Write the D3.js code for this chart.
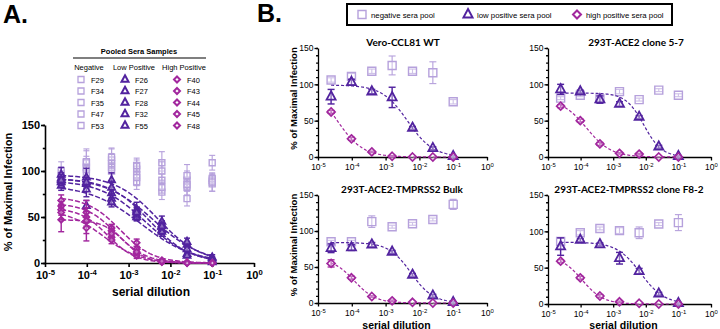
<!DOCTYPE html>
<html lang="en">
<head>
<meta charset="utf-8">
<script src="https://d3js.org/d3.v7.min.js"></script>
<style>
  body { margin: 0; background: #fff; }
  svg { display: block; font-family: "Liberation Sans", Arial, sans-serif; }
</style>
</head>
<body>
<svg id="fig" width="720" height="329"></svg>
<script>
// serial 4-fold dilutions, 1:40960 ... 1:10
var dilutions = [2.44e-5, 9.77e-5, 3.91e-4, 1.56e-3, 6.25e-3, 2.5e-2, 1e-1];
var xTicks = [1e-5, 1e-4, 1e-3, 1e-2, 1e-1, 1];

// ---- panel A: pooled sera samples ----
var negIds = ["F29", "F34", "F35", "F47", "F53"];
var lowIds = ["F26", "F27", "F28", "F32", "F55"];
var highIds = ["F40", "F43", "F44", "F45", "F48"];

var negA = [
  [95, 104, 108, 102, 109, 90, 109],
  [90, 109, 112, 106, 90, 82, 90],
  [100, 98, 104, 96, 77, 95, 86],
  [88, 102, 100, 88, 100, 70, 92],
  [92, 110, 115, 93, 82, 85, 88]
];
var negAErr = [
  [8, 12, 10, 10, 12, 10, 8],
  [6, 15, 12, 8, 10, 8, 6],
  [10, 10, 15, 12, 8, 12, 8],
  [5, 10, 12, 8, 10, 8, 5],
  [8, 12, 10, 8, 6, 6, 10]
];
var lowA = [
  [92, 86, 76, 56, 42, 20, 5],
  [88, 80, 70, 52, 36, 10, 2],
  [96, 93, 90, 58, 45, 23, 6],
  [84, 62, 66, 50, 34, 8, 1],
  [90, 88, 82, 55, 40, 15, 3]
];
var lowAErr = [
  [6, 5, 6, 5, 4, 3, 2],
  [5, 8, 6, 6, 5, 3, 1],
  [8, 10, 8, 8, 6, 4, 3],
  [5, 6, 5, 4, 5, 2, 1],
  [6, 5, 7, 5, 4, 3, 2]
];
var highA = [
  [68, 55, 38, 22, 3, 1, 0],
  [62, 50, 35, 15, 2, 0, 0],
  [58, 45, 28, 10, 1, 0, 0],
  [47, 46, 32, 8, 1, 0, 0],
  [55, 38, 25, 12, 2, 0, 0]
];
var highAErr = [
  [6, 5, 4, 4, 1, 0, 0],
  [5, 6, 5, 3, 1, 0, 0],
  [6, 5, 4, 3, 1, 0, 0],
  [13, 22, 5, 3, 1, 0, 0],
  [8, 6, 4, 3, 1, 0, 0]
];
// fitted dose-response parameters (top, log IC50, hill)
var lowATop = [93, 90, 96, 85, 92];
var lowALogIC50 = [-2.4, -2.6, -2.3, -2.7, -2.5];
var lowAHill = [0.75, 0.8, 0.85, 0.7, 0.9];
var highATop = [72, 65, 60, 47, 58];
var highALogIC50 = [-3.2, -3.3, -3.5, -3.1, -3.6];
var highAHill = [1.1, 1.2, 1.3, 1.6, 1.0];

// ---- panel B: cell lines ----
var bTitles = ["Vero-CCL81 WT", "293T-ACE2 clone 5-7", "293T-ACE2-TMPRSS2 Bulk", "293T-ACE2-TMPRSS2 clone F8-2"];
var bNeg = [
  [106, 111, 118, 126, 118, 116, 76],
  [81, 85, 80, 90, 79, 92, 85],
  [85, 85, 113, 106, 110, 116, 137],
  [86, 98, 104, 101, 98, 110, 112]
];
var bNegErr = [
  [3, 4, 3, 13, 3, 15, 3],
  [2, 2, 2, 3, 2, 2, 2],
  [2, 2, 8, 2, 2, 2, 7],
  [5, 3, 2, 4, 8, 2, 11]
];
var bLow = [
  [83, 103, 90, 82, 40, 12, 1],
  [93, 90, 79, 73, 55, 14, 1],
  [76, 77, 81, 71, 39, 10, 1],
  [79, 88, 82, 63, 45, 14, 1]
];
var bLowErr = [
  [10, 4, 3, 14, 2, 2, 1],
  [7, 2, 5, 3, 2, 2, 1],
  [6, 4, 3, 2, 2, 2, 1],
  [12, 2, 2, 8, 4, 2, 1]
];
var bHigh = [
  [62, 25, 7, 1, 0, 0, 0],
  [70, 50, 18, 5, 4, 0, 0],
  [55, 35, 9, 3, 1, 0, 0],
  [59, 36, 11, 3, 1, 0, 0]
];
var bHighErr = [
  [2, 2, 1, 1, 0, 0, 0],
  [2, 2, 2, 1, 1, 0, 0],
  [5, 2, 1, 1, 0, 0, 0],
  [2, 2, 2, 1, 0, 0, 0]
];
var bLowTop = [99, 88, 84, 85];
var bLowLogIC50 = [-2.35, -2.06, -2.25, -2.16];
var bLowHill = [1.15, 1.57, 1.33, 1.2];
var bHighTop = [100, 80, 62, 66];
var bHighLogIC50 = [-4.43, -3.82, -3.93, -3.95];
var bHighHill = [1.15, 1.15, 1.38, 1.35];

var cNeg = "#b6a1dc", cLow = "#52239f", cHigh = "#a2279e";

var svg = d3.select("#fig");

function symPath(type, s) {
  if (type === "sq") return "M" + (-s / 2) + "," + (-s / 2) + "h" + s + "v" + s + "h" + (-s) + "Z";
  if (type === "tri") return "M0," + (-s * 0.6) + "L" + (s / 2) + "," + (s * 0.32) + "L" + (-s / 2) + "," + (s * 0.32) + "Z";
  return "M0," + (-s / 2) + "L" + (s / 2) + ",0L0," + (s / 2) + "L" + (-s / 2) + ",0Z";
}

// x log axis with 10^n labels, y axis 0..150
function makeAxes(g, x, y, o) {
  var xa = g.append("g").attr("transform", "translate(0," + y(0) + ")")
    .call(d3.axisBottom(x).tickValues(xTicks).tickSize(o.tick).tickSizeOuter(0).tickPadding(o.xpad));
  xa.selectAll(".tick text").text(null)
    .attr("font-size", o.font).attr("font-weight", o.weight).attr("fill", "#000")
    .each(function(d) {
      var t = d3.select(this);
      t.append("tspan").text("10");
      t.append("tspan").attr("dy", "-0.45em").attr("font-size", "70%").text(Math.round(Math.log10(d)));
    });
  var ya = g.append("g").attr("transform", "translate(" + x.range()[0] + ",0)")
    .call(d3.axisLeft(y).tickValues([0, 50, 100, 150]).tickSize(o.tick).tickSizeOuter(0).tickPadding(1));
  ya.selectAll(".tick text").attr("font-size", o.font).attr("font-weight", o.weight).attr("fill", "#000");
  g.append("g").attr("transform", "translate(" + x.range()[0] + ",0)")
    .call(d3.axisLeft(y).tickValues(d3.range(0, 151, o.minor)).tickSize(o.tick * 0.55).tickFormat(""))
    .select(".domain").remove();
  g.selectAll(".domain, .tick line").attr("stroke", "#000").attr("stroke-width", o.axisW);
}

function drawCurve(g, x, y, top, logIc, hill, color, w, dash) {
  var lo = Math.log10(dilutions[0]), hi = Math.log10(dilutions[dilutions.length - 1]);
  var pts = d3.range(0, 81).map(function(i) {
    var lx = lo + (hi - lo) * i / 80;
    return [lx, top / (1 + Math.pow(10, (lx - logIc) * hill))];
  });
  g.append("path").datum(pts)
    .attr("fill", "none").attr("stroke", color).attr("stroke-width", w)
    .attr("stroke-dasharray", dash)
    .attr("d", d3.line().x(function(d) { return x(Math.pow(10, d[0])); }).y(function(d) { return y(d[1]); }));
}

function drawPoints(g, x, y, vals, errs, type, color, s, sw, cap) {
  var pts = vals.map(function(v, i) { return { d: dilutions[i], v: v, e: errs[i] }; });
  var eb = g.append("g").attr("stroke", color).attr("stroke-width", sw * 0.8).attr("fill", "none");
  pts.filter(function(p) { return p.e > 0; }).forEach(function(p) {
    var cx = x(p.d);
    eb.append("line").attr("x1", cx).attr("x2", cx).attr("y1", y(p.v - p.e)).attr("y2", y(p.v + p.e));
    eb.append("line").attr("x1", cx - cap).attr("x2", cx + cap).attr("y1", y(p.v + p.e)).attr("y2", y(p.v + p.e));
    eb.append("line").attr("x1", cx - cap).attr("x2", cx + cap).attr("y1", y(Math.max(0, p.v - p.e))).attr("y2", y(Math.max(0, p.v - p.e)));
  });
  g.append("g").selectAll("path").data(pts).join("path")
    .attr("transform", function(p) { return "translate(" + x(p.d) + "," + y(p.v) + ")"; })
    .attr("d", symPath(type, s))
    .attr("fill", "#fff").attr("fill-opacity", 0.35)
    .attr("stroke", color).attr("stroke-width", sw);
}

// ================= panel A =================
svg.append("text").attr("x", 3).attr("y", 23).attr("font-size", 25).attr("font-weight", "bold").text("A.");

var xA = d3.scaleLog().domain([1e-5, 1]).range([45, 254]);
var yA = d3.scaleLinear().domain([0, 150]).range([263, 125]);
var gA = svg.append("g");
makeAxes(gA, xA, yA, { tick: 4, font: 11, weight: "bold", minor: 25, axisW: 1.6, xpad: 4 });

negA.forEach(function(v, i) { drawPoints(gA, xA, yA, v, negAErr[i], "sq", cNeg, 6, 1.4, 3); });
lowA.forEach(function(v, i) {
  drawCurve(gA, xA, yA, lowATop[i], lowALogIC50[i], lowAHill[i], cLow, 1.5, "5,2");
  drawPoints(gA, xA, yA, v, lowAErr[i], "tri", cLow, 7, 1.8, 3);
});
highA.forEach(function(v, i) {
  drawCurve(gA, xA, yA, highATop[i], highALogIC50[i], highAHill[i], cHigh, 1.5, "5,2");
  drawPoints(gA, xA, yA, v, highAErr[i], "dia", cHigh, 6, 1.8, 3);
});

svg.append("text").attr("transform", "translate(12,192) rotate(-90)").attr("text-anchor", "middle")
  .attr("font-size", 11).attr("font-weight", "bold").text("% of Maximal Infection");
svg.append("text").attr("x", 151).attr("y", 296).attr("text-anchor", "middle")
  .attr("font-size", 12).attr("font-weight", "bold").text("serial dilution");

// legend of panel A
var lg = svg.append("g").attr("font-size", 7.5);
lg.append("text").attr("x", 139).attr("y", 54).attr("text-anchor", "middle").attr("font-weight", "bold").text("Pooled Sera Samples");
lg.append("line").attr("x1", 73).attr("x2", 206).attr("y1", 58).attr("y2", 58).attr("stroke", "#000").attr("stroke-width", 1.2);
var cols = [
  { head: "Negative", hx: 89, sx: 81, ids: negIds, type: "sq", color: cNeg, s: 6, sw: 1.3 },
  { head: "Low Positive", hx: 134, sx: 125, ids: lowIds, type: "tri", color: cLow, s: 7, sw: 2 },
  { head: "High Positive", hx: 184, sx: 177, ids: highIds, type: "dia", color: cHigh, s: 6, sw: 2 }
];
cols.forEach(function(c) {
  lg.append("text").attr("x", c.hx).attr("y", 69.5).attr("text-anchor", "middle").text(c.head);
  c.ids.forEach(function(id, r) {
    var cy = 79.5 + r * 11.5;
    lg.append("path").attr("transform", "translate(" + c.sx + "," + cy + ")").attr("d", symPath(c.type, c.s))
      .attr("fill", "none").attr("stroke", c.color).attr("stroke-width", c.sw);
    lg.append("text").attr("x", c.sx + 10).attr("y", cy + 3).text(id);
  });
});

// ================= panel B =================
svg.append("text").attr("x", 257).attr("y", 22).attr("font-size", 25).attr("font-weight", "bold").text("B.");

var lb = svg.append("g").attr("font-size", 7.8);
lb.append("rect").attr("x", 347).attr("y", 4).attr("width", 325).attr("height", 21)
  .attr("fill", "#fff").attr("stroke", "#000").attr("stroke-width", 2);
[
  { label: "negative sera pool", sx: 362, type: "sq", color: cNeg, s: 8, sw: 1.4 },
  { label: "low positive sera pool", sx: 468, type: "tri", color: cLow, s: 9, sw: 2 },
  { label: "high positive sera pool", sx: 577, type: "dia", color: cHigh, s: 8, sw: 2 }
].forEach(function(e) {
  lb.append("path").attr("transform", "translate(" + e.sx + ",14.5)").attr("d", symPath(e.type, e.s))
    .attr("fill", "none").attr("stroke", e.color).attr("stroke-width", e.sw);
  lb.append("text").attr("x", e.sx + 9).attr("y", 17.5).text(e.label);
});

var bLayout = [
  { x0: 318, x1: 487, y0: 157, y1: 48, tx: 403, ty: 46, yt: true, xt: false },
  { x0: 548, x1: 711, y0: 157, y1: 48, tx: 636, ty: 46, yt: false, xt: false },
  { x0: 318, x1: 487, y0: 303, y1: 195, tx: 402, ty: 193, yt: true, xt: true },
  { x0: 548, x1: 711, y0: 304, y1: 195, tx: 629, ty: 193, yt: false, xt: true }
];

bLayout.forEach(function(L, k) {
  var x = d3.scaleLog().domain([1e-5, 1]).range([L.x0, L.x1]);
  var y = d3.scaleLinear().domain([0, 150]).range([L.y0, L.y1]);
  var g = svg.append("g");
  makeAxes(g, x, y, { tick: 3.5, font: 8.5, weight: "normal", minor: 10, axisW: 1.3, xpad: 3.5 });
  drawPoints(g, x, y, bNeg[k], bNegErr[k], "sq", cNeg, 8, 1.4, 3.5);
  drawCurve(g, x, y, bLowTop[k], bLowLogIC50[k], bLowHill[k], cLow, 1.2, "3,2");
  drawPoints(g, x, y, bLow[k], bLowErr[k], "tri", cLow, 9, 1.8, 3.5);
  drawCurve(g, x, y, bHighTop[k], bHighLogIC50[k], bHighHill[k], cHigh, 1.2, "3,2");
  drawPoints(g, x, y, bHigh[k], bHighErr[k], "dia", cHigh, 8, 1.7, 3.5);
  svg.append("text").attr("x", L.tx).attr("y", L.ty).attr("text-anchor", "middle")
    .attr("font-family", "Lato, 'Open Sans', sans-serif").attr("font-size", 10).attr("font-weight", "bold")
    .text(bTitles[k]);
  if (L.yt) svg.append("text").attr("transform", "translate(297," + ((L.y0 + L.y1) / 2 - 4) + ") rotate(-90)")
    .attr("text-anchor", "middle").attr("font-size", 9.5).attr("font-weight", "bold").text("% of Maximal Infection");
  if (L.xt) svg.append("text").attr("x", (L.x0 + L.x1) / 2 - 6).attr("y", 328.5).attr("text-anchor", "middle")
    .attr("font-size", 10.5).attr("font-weight", "bold").text("serial dilution");
});
</script>
</body>
</html>
